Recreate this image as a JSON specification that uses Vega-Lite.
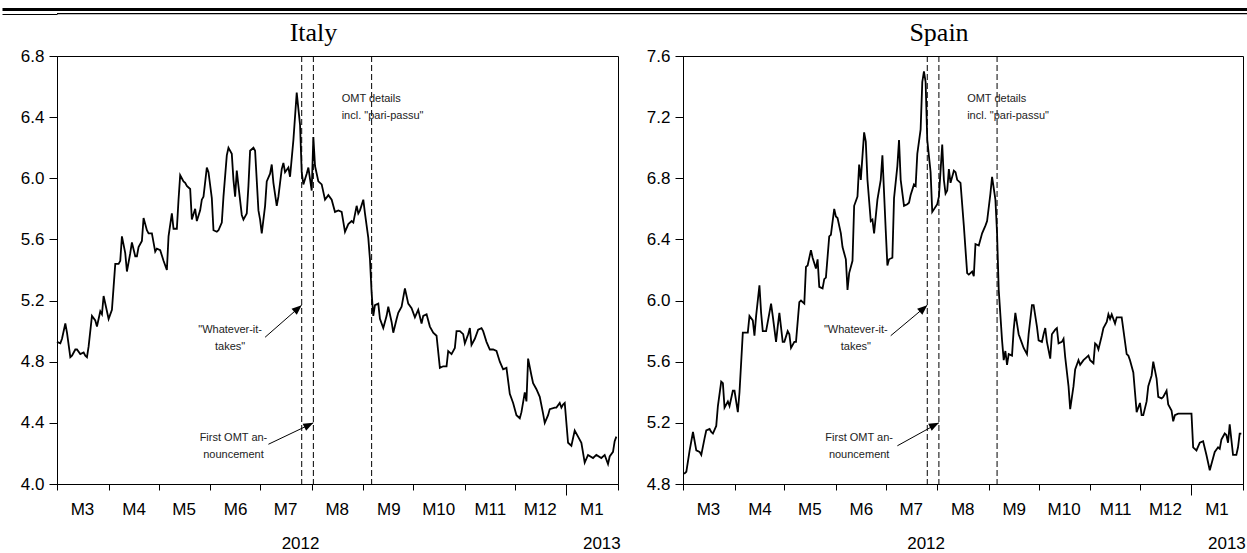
{
  "$schema": "https://vega.github.io/schema/vega-lite/v6.json",
  "padding": {"left": 0, "top": 7, "right": 0, "bottom": 0},
  "background": "white",
  "config": {
    "font": "Liberation Sans",
    "view": {"stroke": "black", "strokeWidth": 1},
    "axis": {"domainColor": "black", "tickColor": "black", "labelColor": "black", "labelFont": "Liberation Sans", "labelFontSize": 17, "grid": false, "title": null, "labelBound": false, "labelFlush": false, "labelOverlap": false},
    "title": {"font": "Liberation Serif", "fontSize": 26, "fontWeight": "normal", "color": "black"}
  },
  "datasets": {
    "italy": [
      {"date":"2012-03-01","yield":4.93},{"date":"2012-03-03","yield":4.92},{"date":"2012-03-04","yield":4.95},{"date":"2012-03-06","yield":5.05},{"date":"2012-03-07","yield":4.99},{"date":"2012-03-09","yield":4.83},{"date":"2012-03-10","yield":4.84},{"date":"2012-03-12","yield":4.88},{"date":"2012-03-13","yield":4.88},{"date":"2012-03-15","yield":4.85},{"date":"2012-03-17","yield":4.86},{"date":"2012-03-18","yield":4.84},{"date":"2012-03-19","yield":4.83},{"date":"2012-03-20","yield":4.90},{"date":"2012-03-22","yield":5.10},{"date":"2012-03-24","yield":5.07},{"date":"2012-03-25","yield":5.03},{"date":"2012-03-27","yield":5.13},{"date":"2012-03-28","yield":5.11},{"date":"2012-03-29","yield":5.23},{"date":"2012-03-31","yield":5.13},
      {"date":"2012-04-01","yield":5.08},{"date":"2012-04-03","yield":5.14},{"date":"2012-04-04","yield":5.29},{"date":"2012-04-05","yield":5.44},{"date":"2012-04-07","yield":5.44},{"date":"2012-04-08","yield":5.46},{"date":"2012-04-09","yield":5.62},{"date":"2012-04-11","yield":5.51},{"date":"2012-04-12","yield":5.39},{"date":"2012-04-14","yield":5.51},{"date":"2012-04-15","yield":5.58},{"date":"2012-04-17","yield":5.49},{"date":"2012-04-18","yield":5.49},{"date":"2012-04-19","yield":5.55},{"date":"2012-04-21","yield":5.59},{"date":"2012-04-22","yield":5.74},{"date":"2012-04-24","yield":5.66},{"date":"2012-04-25","yield":5.64},{"date":"2012-04-27","yield":5.64},{"date":"2012-04-29","yield":5.52},{"date":"2012-04-30","yield":5.54},
      {"date":"2012-05-02","yield":5.53},{"date":"2012-05-04","yield":5.46},{"date":"2012-05-06","yield":5.40},{"date":"2012-05-07","yield":5.62},{"date":"2012-05-09","yield":5.77},{"date":"2012-05-10","yield":5.67},{"date":"2012-05-12","yield":5.67},{"date":"2012-05-13","yield":5.86},{"date":"2012-05-14","yield":6.02},{"date":"2012-05-16","yield":5.98},{"date":"2012-05-17","yield":5.97},{"date":"2012-05-18","yield":5.95},{"date":"2012-05-20","yield":5.93},{"date":"2012-05-21","yield":5.73},{"date":"2012-05-23","yield":5.80},{"date":"2012-05-24","yield":5.72},{"date":"2012-05-26","yield":5.79},{"date":"2012-05-27","yield":5.86},{"date":"2012-05-28","yield":5.88},{"date":"2012-05-30","yield":6.07},{"date":"2012-05-31","yield":6.04},
      {"date":"2012-06-02","yield":5.87},{"date":"2012-06-03","yield":5.66},{"date":"2012-06-05","yield":5.65},{"date":"2012-06-06","yield":5.66},{"date":"2012-06-08","yield":5.71},{"date":"2012-06-09","yield":5.88},{"date":"2012-06-11","yield":6.15},{"date":"2012-06-12","yield":6.20},{"date":"2012-06-14","yield":6.16},{"date":"2012-06-15","yield":5.99},{"date":"2012-06-16","yield":5.88},{"date":"2012-06-17","yield":6.05},{"date":"2012-06-18","yield":5.95},{"date":"2012-06-20","yield":5.76},{"date":"2012-06-21","yield":5.73},{"date":"2012-06-23","yield":5.77},{"date":"2012-06-24","yield":5.95},{"date":"2012-06-25","yield":6.18},{"date":"2012-06-27","yield":6.20},{"date":"2012-06-28","yield":6.18},{"date":"2012-06-30","yield":5.79},
      {"date":"2012-07-01","yield":5.73},{"date":"2012-07-02","yield":5.64},{"date":"2012-07-04","yield":5.82},{"date":"2012-07-05","yield":5.98},{"date":"2012-07-07","yield":6.03},{"date":"2012-07-08","yield":6.09},{"date":"2012-07-09","yield":5.97},{"date":"2012-07-11","yield":5.82},{"date":"2012-07-12","yield":5.88},{"date":"2012-07-14","yield":6.06},{"date":"2012-07-15","yield":6.10},{"date":"2012-07-16","yield":6.04},{"date":"2012-07-18","yield":6.07},{"date":"2012-07-19","yield":6.01},{"date":"2012-07-21","yield":6.25},{"date":"2012-07-23","yield":6.56},{"date":"2012-07-25","yield":6.35},{"date":"2012-07-26","yield":6.04},{"date":"2012-07-27","yield":5.96},{"date":"2012-07-29","yield":6.03},{"date":"2012-07-30","yield":6.07},
      {"date":"2012-08-01","yield":5.92},{"date":"2012-08-02","yield":6.27},{"date":"2012-08-03","yield":6.08},{"date":"2012-08-05","yield":5.98},{"date":"2012-08-07","yield":5.96},{"date":"2012-08-09","yield":5.86},{"date":"2012-08-11","yield":5.89},{"date":"2012-08-13","yield":5.86},{"date":"2012-08-15","yield":5.78},{"date":"2012-08-17","yield":5.79},{"date":"2012-08-19","yield":5.78},{"date":"2012-08-21","yield":5.65},{"date":"2012-08-23","yield":5.70},{"date":"2012-08-25","yield":5.72},{"date":"2012-08-26","yield":5.71},{"date":"2012-08-28","yield":5.82},{"date":"2012-08-29","yield":5.77},{"date":"2012-08-30","yield":5.79},
      {"date":"2012-09-01","yield":5.86},{"date":"2012-09-02","yield":5.77},{"date":"2012-09-04","yield":5.61},{"date":"2012-09-05","yield":5.47},{"date":"2012-09-06","yield":5.25},{"date":"2012-09-07","yield":5.10},{"date":"2012-09-08","yield":5.17},{"date":"2012-09-10","yield":5.18},{"date":"2012-09-11","yield":5.08},{"date":"2012-09-13","yield":5.02},{"date":"2012-09-15","yield":5.10},{"date":"2012-09-16","yield":5.16},{"date":"2012-09-18","yield":5.06},{"date":"2012-09-19","yield":4.99},{"date":"2012-09-21","yield":5.08},{"date":"2012-09-22","yield":5.12},{"date":"2012-09-24","yield":5.16},{"date":"2012-09-26","yield":5.28},{"date":"2012-09-28","yield":5.18},{"date":"2012-09-30","yield":5.15},
      {"date":"2012-10-02","yield":5.09},{"date":"2012-10-04","yield":5.14},{"date":"2012-10-06","yield":5.05},{"date":"2012-10-07","yield":5.10},{"date":"2012-10-09","yield":5.11},{"date":"2012-10-11","yield":5.03},{"date":"2012-10-13","yield":4.99},{"date":"2012-10-15","yield":4.97},{"date":"2012-10-17","yield":4.76},{"date":"2012-10-19","yield":4.77},{"date":"2012-10-21","yield":4.77},{"date":"2012-10-22","yield":4.87},{"date":"2012-10-24","yield":4.85},{"date":"2012-10-26","yield":4.89},{"date":"2012-10-27","yield":5.00},{"date":"2012-10-29","yield":5.00},{"date":"2012-10-31","yield":4.98},
      {"date":"2012-11-01","yield":4.92},{"date":"2012-11-03","yield":4.98},{"date":"2012-11-04","yield":5.02},{"date":"2012-11-05","yield":4.91},{"date":"2012-11-07","yield":4.95},{"date":"2012-11-09","yield":5.01},{"date":"2012-11-11","yield":5.02},{"date":"2012-11-12","yield":5.00},{"date":"2012-11-14","yield":4.93},{"date":"2012-11-16","yield":4.88},{"date":"2012-11-18","yield":4.88},{"date":"2012-11-20","yield":4.87},{"date":"2012-11-22","yield":4.80},{"date":"2012-11-24","yield":4.75},{"date":"2012-11-26","yield":4.76},{"date":"2012-11-28","yield":4.59},{"date":"2012-11-30","yield":4.53},
      {"date":"2012-12-02","yield":4.45},{"date":"2012-12-04","yield":4.43},{"date":"2012-12-05","yield":4.47},{"date":"2012-12-07","yield":4.60},{"date":"2012-12-08","yield":4.54},{"date":"2012-12-09","yield":4.82},{"date":"2012-12-11","yield":4.71},{"date":"2012-12-12","yield":4.66},{"date":"2012-12-14","yield":4.62},{"date":"2012-12-16","yield":4.57},{"date":"2012-12-18","yield":4.46},{"date":"2012-12-19","yield":4.40},{"date":"2012-12-21","yield":4.45},{"date":"2012-12-22","yield":4.49},{"date":"2012-12-25","yield":4.50},{"date":"2012-12-26","yield":4.50},{"date":"2012-12-28","yield":4.53},{"date":"2012-12-29","yield":4.50},{"date":"2012-12-30","yield":4.52},{"date":"2012-12-31","yield":4.53},
      {"date":"2013-01-02","yield":4.27},{"date":"2013-01-04","yield":4.25},{"date":"2013-01-06","yield":4.35},{"date":"2013-01-08","yield":4.31},{"date":"2013-01-10","yield":4.27},{"date":"2013-01-12","yield":4.14},{"date":"2013-01-14","yield":4.19},{"date":"2013-01-17","yield":4.17},{"date":"2013-01-19","yield":4.19},{"date":"2013-01-22","yield":4.17},{"date":"2013-01-24","yield":4.19},{"date":"2013-01-26","yield":4.13},{"date":"2013-01-27","yield":4.18},{"date":"2013-01-29","yield":4.21},{"date":"2013-01-30","yield":4.28},{"date":"2013-01-31","yield":4.31}
    ],
    "spain": [
      {"date":"2012-03-01","yield":4.87},{"date":"2012-03-02","yield":4.87},{"date":"2012-03-03","yield":4.88},{"date":"2012-03-04","yield":4.95},{"date":"2012-03-05","yield":5.02},{"date":"2012-03-07","yield":5.14},{"date":"2012-03-09","yield":5.02},{"date":"2012-03-11","yield":5.01},{"date":"2012-03-12","yield":4.99},{"date":"2012-03-14","yield":5.10},{"date":"2012-03-15","yield":5.15},{"date":"2012-03-17","yield":5.16},{"date":"2012-03-18","yield":5.14},{"date":"2012-03-19","yield":5.13},{"date":"2012-03-21","yield":5.18},{"date":"2012-03-22","yield":5.31},{"date":"2012-03-24","yield":5.47},{"date":"2012-03-25","yield":5.46},{"date":"2012-03-26","yield":5.30},{"date":"2012-03-28","yield":5.34},{"date":"2012-03-29","yield":5.31},{"date":"2012-03-31","yield":5.41},
      {"date":"2012-04-01","yield":5.41},{"date":"2012-04-03","yield":5.27},{"date":"2012-04-04","yield":5.40},{"date":"2012-04-06","yield":5.79},{"date":"2012-04-07","yield":5.79},{"date":"2012-04-09","yield":5.79},{"date":"2012-04-10","yield":5.90},{"date":"2012-04-12","yield":5.87},{"date":"2012-04-13","yield":5.77},{"date":"2012-04-14","yield":5.90},{"date":"2012-04-16","yield":6.10},{"date":"2012-04-17","yield":5.92},{"date":"2012-04-18","yield":5.80},{"date":"2012-04-20","yield":5.80},{"date":"2012-04-22","yield":5.92},{"date":"2012-04-23","yield":5.98},{"date":"2012-04-24","yield":5.90},{"date":"2012-04-26","yield":5.73},{"date":"2012-04-27","yield":5.83},{"date":"2012-04-28","yield":5.92},{"date":"2012-04-30","yield":5.73},
      {"date":"2012-05-01","yield":5.73},{"date":"2012-05-03","yield":5.80},{"date":"2012-05-04","yield":5.78},{"date":"2012-05-05","yield":5.69},{"date":"2012-05-07","yield":5.73},{"date":"2012-05-08","yield":5.73},{"date":"2012-05-10","yield":5.99},{"date":"2012-05-11","yield":6.00},{"date":"2012-05-13","yield":5.98},{"date":"2012-05-14","yield":6.22},{"date":"2012-05-15","yield":6.23},{"date":"2012-05-17","yield":6.33},{"date":"2012-05-18","yield":6.28},{"date":"2012-05-20","yield":6.21},{"date":"2012-05-21","yield":6.27},{"date":"2012-05-22","yield":6.09},{"date":"2012-05-24","yield":6.08},{"date":"2012-05-25","yield":6.14},{"date":"2012-05-26","yield":6.15},{"date":"2012-05-28","yield":6.42},{"date":"2012-05-29","yield":6.43},{"date":"2012-05-31","yield":6.60},
      {"date":"2012-06-01","yield":6.55},{"date":"2012-06-02","yield":6.54},{"date":"2012-06-04","yield":6.44},{"date":"2012-06-05","yield":6.35},{"date":"2012-06-07","yield":6.27},{"date":"2012-06-08","yield":6.07},{"date":"2012-06-09","yield":6.18},{"date":"2012-06-11","yield":6.26},{"date":"2012-06-12","yield":6.62},{"date":"2012-06-14","yield":6.68},{"date":"2012-06-15","yield":6.89},{"date":"2012-06-16","yield":6.79},{"date":"2012-06-18","yield":7.10},{"date":"2012-06-19","yield":7.04},{"date":"2012-06-20","yield":6.79},{"date":"2012-06-22","yield":6.52},{"date":"2012-06-23","yield":6.53},{"date":"2012-06-24","yield":6.44},{"date":"2012-06-26","yield":6.66},{"date":"2012-06-28","yield":6.79},{"date":"2012-06-29","yield":6.95},
      {"date":"2012-07-01","yield":6.46},{"date":"2012-07-02","yield":6.23},{"date":"2012-07-03","yield":6.27},{"date":"2012-07-05","yield":6.28},{"date":"2012-07-06","yield":6.67},{"date":"2012-07-08","yield":6.88},{"date":"2012-07-09","yield":7.05},{"date":"2012-07-10","yield":6.79},{"date":"2012-07-12","yield":6.62},{"date":"2012-07-14","yield":6.63},{"date":"2012-07-15","yield":6.64},{"date":"2012-07-16","yield":6.69},{"date":"2012-07-18","yield":6.76},{"date":"2012-07-19","yield":6.75},{"date":"2012-07-20","yield":6.96},{"date":"2012-07-22","yield":7.12},{"date":"2012-07-23","yield":7.43},{"date":"2012-07-24","yield":7.50},{"date":"2012-07-25","yield":7.43},{"date":"2012-07-26","yield":7.05},{"date":"2012-07-28","yield":6.84},{"date":"2012-07-29","yield":6.58},
      {"date":"2012-08-01","yield":6.63},{"date":"2012-08-02","yield":6.68},{"date":"2012-08-04","yield":7.02},{"date":"2012-08-05","yield":6.79},{"date":"2012-08-06","yield":6.70},{"date":"2012-08-07","yield":6.72},{"date":"2012-08-08","yield":6.86},{"date":"2012-08-09","yield":6.77},{"date":"2012-08-11","yield":6.85},{"date":"2012-08-12","yield":6.84},{"date":"2012-08-13","yield":6.79},{"date":"2012-08-15","yield":6.77},{"date":"2012-08-17","yield":6.49},{"date":"2012-08-19","yield":6.18},{"date":"2012-08-20","yield":6.17},{"date":"2012-08-22","yield":6.19},{"date":"2012-08-23","yield":6.16},{"date":"2012-08-24","yield":6.37},{"date":"2012-08-26","yield":6.36},{"date":"2012-08-28","yield":6.44},{"date":"2012-08-30","yield":6.49},{"date":"2012-08-31","yield":6.52},
      {"date":"2012-09-02","yield":6.70},{"date":"2012-09-03","yield":6.81},{"date":"2012-09-05","yield":6.66},{"date":"2012-09-06","yield":6.44},{"date":"2012-09-07","yield":6.07},{"date":"2012-09-09","yield":5.74},{"date":"2012-09-10","yield":5.61},{"date":"2012-09-11","yield":5.67},{"date":"2012-09-12","yield":5.58},{"date":"2012-09-13","yield":5.65},{"date":"2012-09-15","yield":5.64},{"date":"2012-09-16","yield":5.81},{"date":"2012-09-17","yield":5.92},{"date":"2012-09-19","yield":5.78},{"date":"2012-09-21","yield":5.72},{"date":"2012-09-22","yield":5.69},{"date":"2012-09-24","yield":5.65},{"date":"2012-09-25","yield":5.78},{"date":"2012-09-27","yield":5.97},{"date":"2012-09-28","yield":5.97},{"date":"2012-09-30","yield":5.83},
      {"date":"2012-10-01","yield":5.74},{"date":"2012-10-03","yield":5.73},{"date":"2012-10-04","yield":5.78},{"date":"2012-10-05","yield":5.82},{"date":"2012-10-06","yield":5.73},{"date":"2012-10-08","yield":5.62},{"date":"2012-10-09","yield":5.78},{"date":"2012-10-11","yield":5.81},{"date":"2012-10-12","yield":5.82},{"date":"2012-10-13","yield":5.72},{"date":"2012-10-15","yield":5.73},{"date":"2012-10-16","yield":5.75},{"date":"2012-10-17","yield":5.63},{"date":"2012-10-19","yield":5.44},{"date":"2012-10-20","yield":5.29},{"date":"2012-10-22","yield":5.44},{"date":"2012-10-23","yield":5.55},{"date":"2012-10-25","yield":5.61},{"date":"2012-10-26","yield":5.58},{"date":"2012-10-28","yield":5.61},{"date":"2012-10-29","yield":5.62},{"date":"2012-10-31","yield":5.64},
      {"date":"2012-11-01","yield":5.61},{"date":"2012-11-03","yield":5.59},{"date":"2012-11-04","yield":5.72},{"date":"2012-11-05","yield":5.71},{"date":"2012-11-06","yield":5.68},{"date":"2012-11-08","yield":5.77},{"date":"2012-11-09","yield":5.82},{"date":"2012-11-11","yield":5.86},{"date":"2012-11-12","yield":5.91},{"date":"2012-11-13","yield":5.88},{"date":"2012-11-14","yield":5.91},{"date":"2012-11-16","yield":5.85},{"date":"2012-11-17","yield":5.89},{"date":"2012-11-19","yield":5.89},{"date":"2012-11-20","yield":5.89},{"date":"2012-11-21","yield":5.81},{"date":"2012-11-23","yield":5.65},{"date":"2012-11-24","yield":5.64},{"date":"2012-11-25","yield":5.61},{"date":"2012-11-27","yield":5.53},{"date":"2012-11-28","yield":5.40},{"date":"2012-11-29","yield":5.27},
      {"date":"2012-12-01","yield":5.33},{"date":"2012-12-02","yield":5.25},{"date":"2012-12-03","yield":5.25},{"date":"2012-12-05","yield":5.34},{"date":"2012-12-06","yield":5.44},{"date":"2012-12-08","yield":5.51},{"date":"2012-12-09","yield":5.60},{"date":"2012-12-11","yield":5.49},{"date":"2012-12-12","yield":5.37},{"date":"2012-12-14","yield":5.36},{"date":"2012-12-15","yield":5.37},{"date":"2012-12-17","yield":5.41},{"date":"2012-12-18","yield":5.32},{"date":"2012-12-20","yield":5.28},{"date":"2012-12-21","yield":5.21},{"date":"2012-12-22","yield":5.25},{"date":"2012-12-24","yield":5.26},{"date":"2012-12-27","yield":5.26},{"date":"2012-12-30","yield":5.26},
      {"date":"2013-01-01","yield":5.26},{"date":"2013-01-02","yield":5.04},{"date":"2013-01-04","yield":5.02},{"date":"2013-01-06","yield":5.07},{"date":"2013-01-08","yield":5.08},{"date":"2013-01-10","yield":4.99},{"date":"2013-01-12","yield":4.89},{"date":"2013-01-14","yield":4.97},{"date":"2013-01-15","yield":5.01},{"date":"2013-01-17","yield":5.04},{"date":"2013-01-18","yield":5.03},{"date":"2013-01-19","yield":5.09},{"date":"2013-01-21","yield":5.13},{"date":"2013-01-22","yield":5.12},{"date":"2013-01-23","yield":5.07},{"date":"2013-01-24","yield":5.19},{"date":"2013-01-26","yield":4.99},{"date":"2013-01-28","yield":4.99},{"date":"2013-01-29","yield":5.04},{"date":"2013-01-30","yield":5.13},{"date":"2013-01-31","yield":5.13}
    ],
    "events": [
      {"date": "2012-07-26", "event": "Whatever-it-takes"},
      {"date": "2012-08-02", "event": "First OMT announcement"},
      {"date": "2012-09-06", "event": "OMT details"}
    ],
    "arrows": [
      {"country": "Italy", "kind": "whatever", "x1": "2012-07-04", "y1": 4.96, "x2": "2012-07-26", "y2": 5.17},
      {"country": "Italy", "kind": "omt", "x1": "2012-07-06", "y1": 4.26, "x2": "2012-08-02", "y2": 4.40},
      {"country": "Spain", "kind": "whatever", "x1": "2012-07-04", "y1": 5.77, "x2": "2012-07-26", "y2": 5.97},
      {"country": "Spain", "kind": "omt", "x1": "2012-07-08", "y1": 5.05, "x2": "2012-08-02", "y2": 5.20}
    ],
    "notes": [
      {"country": "Italy", "note": "whatever", "date": "2012-06-13", "value": 4.99, "text": "\"Whatever-it-\ntakes\""},
      {"country": "Italy", "note": "first", "date": "2012-06-15", "value": 4.28, "text": "First OMT an-\nnouncement"},
      {"country": "Italy", "note": "details", "date": "2012-08-19", "value": 6.50, "text": "OMT details\nincl. \"pari-passu\""},
      {"country": "Spain", "note": "whatever", "date": "2012-06-13", "value": 5.79, "text": "\"Whatever-it-\ntakes\""},
      {"country": "Spain", "note": "first", "date": "2012-06-15", "value": 5.08, "text": "First OMT an-\nnouncement"},
      {"country": "Spain", "note": "details", "date": "2012-08-19", "value": 7.30, "text": "OMT details\nincl. \"pari-passu\""}
    ]
  },
  "columns": 1,
  "spacing": 4,
  "concat": [
    {
      "width": 1192, "height": 7,
      "view": {"stroke": null},
      "data": {"values": [{"edge": "top"}]},
      "layer": [
        {"mark": {"type": "rule", "strokeWidth": 3, "color": "black"}, "encoding": {"y": {"datum": 0.65, "type": "quantitative", "scale": {"domain": [0, 1], "nice": false},
          "axis": {"values": [0.65, 0.05], "labels": false, "domain": false, "tickSize": 55, "tickColor": "black", "tickWidth": {"condition": {"test": "datum.value > 0.5", "value": 3}, "value": 1.2}}}}},
        {"mark": {"type": "rule", "strokeWidth": 1.2, "color": "black"}, "encoding": {"y": {"datum": 0.05, "type": "quantitative"}}}
      ]
    },
    {
      "spacing": 10,
      "hconcat": [
        {
          "width": 561, "height": 428,
          "title": {"text": "Italy", "offset": 1, "dx": -24},
          "resolve": {"axis": {"x": "independent"}},
          "layer": [
            {
              "data": {"name": "events"},
              "mark": {"type": "rule", "color": "black", "strokeWidth": 1, "strokeDash": [6, 3]},
              "encoding": {"x": {"field": "date", "type": "temporal", "axis": {"orient": "bottom", "values": [{"year": 2012, "month": 7, "date": 25}, {"year": 2013, "month": 1, "date": 22}], "format": "%Y", "ticks": false, "tickSize": 0, "domain": false, "labelPadding": 51}}}
            },
            {
              "data": {"name": "italy"},
              "mark": {"type": "line", "color": "black", "strokeWidth": 1.8},
              "encoding": {
                "x": {"field": "date", "type": "temporal", "scale": {"domain": [{"year": 2012, "month": 3, "date": 1}, {"year": 2013, "month": 2, "date": 1}]},
                  "axis": {"orient": "bottom", "values": [{"year": 2012, "month": 3, "date": 1}, {"year": 2012, "month": 4, "date": 1}, {"year": 2012, "month": 5, "date": 1}, {"year": 2012, "month": 6, "date": 1}, {"year": 2012, "month": 7, "date": 1}, {"year": 2012, "month": 8, "date": 1}, {"year": 2012, "month": 9, "date": 1}, {"year": 2012, "month": 10, "date": 1}, {"year": 2012, "month": 11, "date": 1}, {"year": 2012, "month": 12, "date": 1}, {"year": 2013, "month": 1, "date": 1}], "labelExpr": "'M' + (month(datum.value) + 1)", "tickSize": 6, "labelPadding": 11, "labelOffset": 25}},
                "y": {"field": "yield", "type": "quantitative", "scale": {"domain": [4.0, 6.8], "nice": false, "zero": false},
                  "axis": {"values": [4.0, 4.4, 4.8, 5.2, 5.6, 6.0, 6.4, 6.8], "format": ".1f", "tickSize": 8, "labelPadding": 5, "minExtent": 55}}
              }
            },
            {
              "data": {"name": "arrows"},
              "transform": [{"filter": "datum.country == 'Italy'"}],
              "mark": {"type": "rule", "color": "black", "strokeWidth": 1},
              "encoding": {
                "x": {"field": "x1", "type": "temporal", "axis": {"orient": "bottom", "values": [{"year": 2013, "month": 1, "date": 1}], "labels": false, "domain": false, "tickSize": 11}},
                "y": {"field": "y1", "type": "quantitative"},
                "x2": {"field": "x2"}, "y2": {"field": "y2"}
              }
            },
            {
              "data": {"name": "arrows"},
              "transform": [{"filter": "datum.country == 'Italy' && datum.kind == 'whatever'"}],
              "mark": {"type": "point", "shape": "M0,0L-2,-0.8L-2,0.8Z", "filled": true, "color": "black", "opacity": 1, "size": 100, "angle": 319},
              "encoding": {
                "x": {"field": "x2", "type": "temporal", "axis": {"orient": "bottom", "values": [{"year": 2013, "month": 2, "date": 1}], "labels": false, "domain": false, "tickSize": 6}},
                "y": {"field": "y2", "type": "quantitative"}
              }
            },
            {
              "data": {"name": "arrows"},
              "transform": [{"filter": "datum.country == 'Italy' && datum.kind == 'omt'"}],
              "mark": {"type": "point", "shape": "M0,0L-2,-0.8L-2,0.8Z", "filled": true, "color": "black", "opacity": 1, "size": 100, "angle": 334},
              "encoding": {
                "x": {"field": "x2", "type": "temporal", "axis": null},
                "y": {"field": "y2", "type": "quantitative"}
              }
            },
            {
              "data": {"name": "notes"},
              "transform": [{"filter": "datum.country == 'Italy' && datum.note != 'details'"}],
              "mark": {"type": "text", "font": "Liberation Sans", "fontSize": 11, "color": "#222", "align": "center", "baseline": "alphabetic", "lineBreak": "\n", "lineHeight": 17},
              "encoding": {
                "x": {"field": "date", "type": "temporal", "axis": null},
                "y": {"field": "value", "type": "quantitative"},
                "text": {"field": "text"}
              }
            },
            {
              "data": {"name": "notes"},
              "transform": [{"filter": "datum.country == 'Italy' && datum.note == 'details'"}],
              "mark": {"type": "text", "font": "Liberation Sans", "fontSize": 11, "color": "#222", "align": "left", "baseline": "alphabetic", "lineBreak": "\n", "lineHeight": 17},
              "encoding": {
                "x": {"field": "date", "type": "temporal", "axis": null},
                "y": {"field": "value", "type": "quantitative"},
                "text": {"field": "text"}
              }
            }
          ]
        },
        {
          "width": 560, "height": 428,
          "title": {"text": "Spain", "offset": 1, "dx": -24},
          "resolve": {"axis": {"x": "independent"}},
          "layer": [
            {
              "data": {"name": "events"},
              "mark": {"type": "rule", "color": "black", "strokeWidth": 1, "strokeDash": [6, 3]},
              "encoding": {"x": {"field": "date", "type": "temporal", "axis": {"orient": "bottom", "values": [{"year": 2012, "month": 7, "date": 25}, {"year": 2013, "month": 1, "date": 22}], "format": "%Y", "ticks": false, "tickSize": 0, "domain": false, "labelPadding": 51}}}
            },
            {
              "data": {"name": "spain"},
              "mark": {"type": "line", "color": "black", "strokeWidth": 1.8},
              "encoding": {
                "x": {"field": "date", "type": "temporal", "scale": {"domain": [{"year": 2012, "month": 3, "date": 1}, {"year": 2013, "month": 2, "date": 1}]},
                  "axis": {"orient": "bottom", "values": [{"year": 2012, "month": 3, "date": 1}, {"year": 2012, "month": 4, "date": 1}, {"year": 2012, "month": 5, "date": 1}, {"year": 2012, "month": 6, "date": 1}, {"year": 2012, "month": 7, "date": 1}, {"year": 2012, "month": 8, "date": 1}, {"year": 2012, "month": 9, "date": 1}, {"year": 2012, "month": 10, "date": 1}, {"year": 2012, "month": 11, "date": 1}, {"year": 2012, "month": 12, "date": 1}, {"year": 2013, "month": 1, "date": 1}], "labelExpr": "'M' + (month(datum.value) + 1)", "tickSize": 6, "labelPadding": 11, "labelOffset": 25}},
                "y": {"field": "yield", "type": "quantitative", "scale": {"domain": [4.8, 7.6], "nice": false, "zero": false},
                  "axis": {"values": [4.8, 5.2, 5.6, 6.0, 6.4, 6.8, 7.2, 7.6], "format": ".1f", "tickSize": 8, "labelPadding": 5, "minExtent": 51}}
              }
            },
            {
              "data": {"name": "arrows"},
              "transform": [{"filter": "datum.country == 'Spain'"}],
              "mark": {"type": "rule", "color": "black", "strokeWidth": 1},
              "encoding": {
                "x": {"field": "x1", "type": "temporal", "axis": {"orient": "bottom", "values": [{"year": 2013, "month": 1, "date": 1}], "labels": false, "domain": false, "tickSize": 11}},
                "y": {"field": "y1", "type": "quantitative"},
                "x2": {"field": "x2"}, "y2": {"field": "y2"}
              }
            },
            {
              "data": {"name": "arrows"},
              "transform": [{"filter": "datum.country == 'Spain' && datum.kind == 'whatever'"}],
              "mark": {"type": "point", "shape": "M0,0L-2,-0.8L-2,0.8Z", "filled": true, "color": "black", "opacity": 1, "size": 100, "angle": 319},
              "encoding": {
                "x": {"field": "x2", "type": "temporal", "axis": {"orient": "bottom", "values": [{"year": 2013, "month": 2, "date": 1}], "labels": false, "domain": false, "tickSize": 6}},
                "y": {"field": "y2", "type": "quantitative"}
              }
            },
            {
              "data": {"name": "arrows"},
              "transform": [{"filter": "datum.country == 'Spain' && datum.kind == 'omt'"}],
              "mark": {"type": "point", "shape": "M0,0L-2,-0.8L-2,0.8Z", "filled": true, "color": "black", "opacity": 1, "size": 100, "angle": 334},
              "encoding": {
                "x": {"field": "x2", "type": "temporal", "axis": null},
                "y": {"field": "y2", "type": "quantitative"}
              }
            },
            {
              "data": {"name": "notes"},
              "transform": [{"filter": "datum.country == 'Spain' && datum.note != 'details'"}],
              "mark": {"type": "text", "font": "Liberation Sans", "fontSize": 11, "color": "#222", "align": "center", "baseline": "alphabetic", "lineBreak": "\n", "lineHeight": 17},
              "encoding": {
                "x": {"field": "date", "type": "temporal", "axis": null},
                "y": {"field": "value", "type": "quantitative"},
                "text": {"field": "text"}
              }
            },
            {
              "data": {"name": "notes"},
              "transform": [{"filter": "datum.country == 'Spain' && datum.note == 'details'"}],
              "mark": {"type": "text", "font": "Liberation Sans", "fontSize": 11, "color": "#222", "align": "left", "baseline": "alphabetic", "lineBreak": "\n", "lineHeight": 17},
              "encoding": {
                "x": {"field": "date", "type": "temporal", "axis": null},
                "y": {"field": "value", "type": "quantitative"},
                "text": {"field": "text"}
              }
            }
          ]
        }
      ]
    }
  ]
}
